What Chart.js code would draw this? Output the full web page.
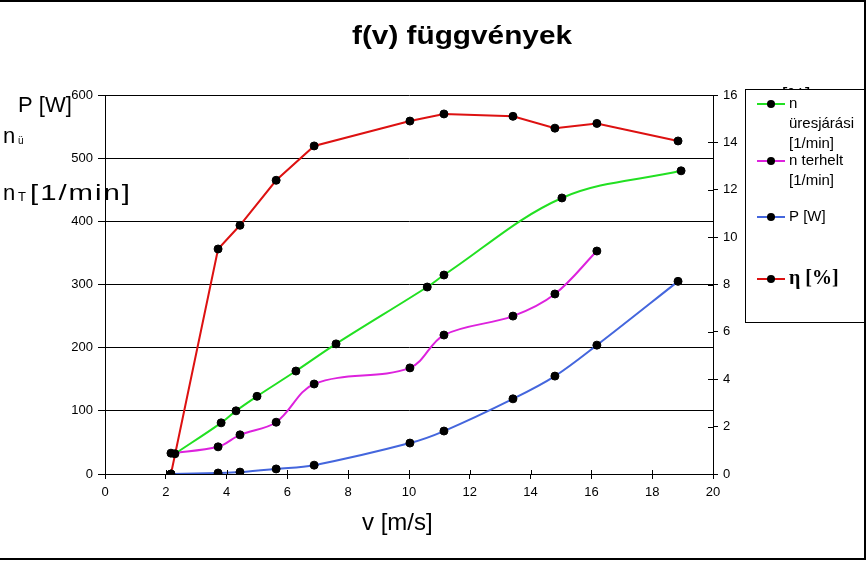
<!DOCTYPE html>
<html>
<head>
<meta charset="utf-8">
<title>f(v) függvények</title>
<script src="https://cdn.jsdelivr.net/npm/chart.js@4.4.0/dist/chart.umd.min.js"></script>
<style>
    html, body { margin: 0; padding: 0; background: #fff; }
    #wrap { width: 868px; height: 561px; }
</style>
</head>
<body>
<div id="wrap"><canvas id="chart" width="868" height="561"></canvas></div>
<script>
// mért sebességek (P és η), valamint a terhelt fordulatszám
const vMeres = [2.17, 3.72, 4.44, 5.63, 6.88, 10.03, 11.15, 13.42, 14.8, 16.18, 18.85];
const pW = [0, 1.6, 3, 8, 14, 49, 68, 119, 155, 204, 305];
const eta = [0, 9.5, 10.5, 12.4, 13.85, 14.9, 15.2, 15.1, 14.6, 14.8, 14.06];
const nTerhelt = [33, 43, 62, 82, 142.5, 168, 220, 250, 285, 353];

// üresjárási mérés
const vUres = [2.3, 3.82, 4.31, 5.0, 6.28, 7.6, 10.6, 11.15, 15.03, 18.95];
const nUres = [32, 81, 100, 123, 163, 206, 296, 315, 437, 480];

const xTicks = { min: 0, max: 20, step: 2 };
const yTicks = { min: 0, max: 600, step: 100 };
const yRTicks = { min: 0, max: 16, step: 2 };

const FONT = 'Arial, "Liberation Sans", sans-serif';

function pontok(xs, ys) {
    return ys.map((y, i) => ({ x: xs[i], y: y }));
}

// szöveg kirajzolása (opcionálisan adott szélességre nyújtva / betűközzel)
function felirat(ctx, text, x, y, font, width, spacing) {
    ctx.save();
    ctx.font = font;
    if (spacing) ctx.letterSpacing = spacing + 'px';
    const w = ctx.measureText(text).width;
    const sx = width ? width / w : 1;
    ctx.translate(x, y);
    ctx.scale(sx, 1);
    ctx.textAlign = 'left';
    ctx.textBaseline = 'alphabetic';
    ctx.fillText(text, 0, 0);
    ctx.restore();
}

const rajzPlugin = {
    id: 'rajz',
    afterDraw(chart) {
        const ctx = chart.ctx;
        const sx = chart.scales.x;
        const sr = chart.scales.yR;
        ctx.save();
        ctx.fillStyle = '#000';
        ctx.strokeStyle = '#000';
        ctx.lineWidth = 1;

        // befelé mutató osztások
        ctx.beginPath();
        sx.ticks.forEach(t => {
            const px = Math.round(sx.getPixelForValue(t.value)) + 0.5;
            ctx.moveTo(px, sx.top - 4);
            ctx.lineTo(px, sx.top);
        });
        sr.ticks.forEach(t => {
            const py = Math.round(sr.getPixelForValue(t.value)) + 0.5;
            ctx.moveTo(sr.left - 5, py);
            ctx.lineTo(sr.left, py);
        });
        ctx.stroke();

        // cím
        felirat(ctx, 'f(v) függvények', 352, 44, 'bold 25px ' + FONT, 220);

        // bal tengely felirata
        felirat(ctx, 'P [W]', 18, 112, '22px ' + FONT);
        felirat(ctx, 'n', 3, 143, '22px ' + FONT);
        felirat(ctx, 'ü', 18, 144, '10px ' + FONT);
        felirat(ctx, 'n', 3, 200, '22px ' + FONT);
        felirat(ctx, 'T', 18, 201, '13px ' + FONT);
        felirat(ctx, '[1/min]', 30, 200, '22px ' + FONT, 102, 1.5);

        // x tengely felirata
        felirat(ctx, 'v [m/s]', 362, 530, '24px ' + FONT);

        // jobb tengely felirata (a jelmagyarázat részben eltakarja)
        felirat(ctx, 'η [%]', 765, 102, '20px ' + FONT);

        // jelmagyarázat
        ctx.fillStyle = '#fff';
        ctx.fillRect(745, 89, 121, 233);
        ctx.lineWidth = 1;
        ctx.strokeRect(745.5, 89.5, 120, 233);
        const sorY = [104, 161, 217, 279];
        chart.data.datasets.forEach((ds, i) => {
            const y = sorY[i];
            ctx.strokeStyle = ds.borderColor;
            ctx.lineWidth = 2;
            ctx.beginPath();
            ctx.moveTo(757, y);
            ctx.lineTo(785, y);
            ctx.stroke();
            ctx.fillStyle = '#000';
            ctx.beginPath();
            ctx.arc(771, y, 4, 0, Math.PI * 2);
            ctx.fill();
            const font = ds.legendFont || ('15px ' + FONT);
            ds.label.split('\n').forEach((sor, j) => {
                ctx.font = font;
                ctx.textBaseline = 'middle';
                ctx.textAlign = 'left';
                ctx.fillText(sor, 789, y + j * 20);
            });
        });

        // külső keret
        ctx.strokeStyle = '#000';
        ctx.lineWidth = 2;
        ctx.beginPath();
        ctx.moveTo(0, 1);
        ctx.lineTo(865, 1);
        ctx.lineTo(865, 559);
        ctx.lineTo(0, 559);
        ctx.stroke();
        ctx.restore();
    }
};

const tickFont = { family: FONT, size: 13 };

const pontStilus = { pointRadius: 4, pointBackgroundColor: '#000', pointBorderColor: '#000', pointBorderWidth: 1 };

new Chart(document.getElementById('chart'), {
    type: 'line',
    data: {
        datasets: [
            {
                label: 'n\nüresjárási\n[1/min]',
                data: pontok(vUres, nUres),
                borderColor: '#22e022',
                yAxisID: 'y',
                tension: 0.35,
                ...pontStilus
            },
            {
                label: 'n terhelt\n[1/min]',
                data: pontok(vMeres, nTerhelt),
                borderColor: '#dd22dd',
                yAxisID: 'y',
                tension: 0.35,
                ...pontStilus
            },
            {
                label: 'P [W]',
                data: pontok(vMeres, pW),
                borderColor: '#4466dd',
                yAxisID: 'y',
                tension: 0.35,
                ...pontStilus
            },
            {
                label: 'η [%]',
                data: pontok(vMeres, eta),
                borderColor: '#dd1111',
                yAxisID: 'yR',
                tension: 0,
                legendFont: 'bold 20px "Liberation Serif", "Times New Roman", serif',
                ...pontStilus
            }
        ]
    },
    options: {
        responsive: false,
        animation: false,
        events: [],
        layout: { padding: { top: 95, left: 0, right: 0, bottom: 0 } },
        elements: {
            line: { borderWidth: 2, fill: false }
        },
        plugins: {
            legend: { display: false },
            title: { display: false },
            tooltip: { enabled: false }
        },
        scales: {
            x: {
                type: 'linear',
                position: 'bottom',
                min: xTicks.min,
                max: xTicks.max,
                ticks: { stepSize: xTicks.step, color: '#000', font: tickFont, padding: 6, maxRotation: 0 },
                grid: { drawOnChartArea: false, color: '#000', tickLength: 5 },
                border: { color: '#000' },
                afterFit(s) { s.height = 87; }
            },
            y: {
                position: 'left',
                min: yTicks.min,
                max: yTicks.max,
                ticks: { stepSize: yTicks.step, color: '#000', font: tickFont, padding: 5 },
                grid: { color: '#000', tickLength: 7 },
                border: { color: '#000' },
                afterFit(s) { s.width = 105; }
            },
            yR: {
                position: 'right',
                min: yRTicks.min,
                max: yRTicks.max,
                ticks: { stepSize: yRTicks.step, color: '#000', font: tickFont, padding: 5 },
                grid: { drawOnChartArea: false, color: '#000', tickLength: 5 },
                border: { color: '#000' },
                afterFit(s) { s.width = 155; }
            }
        }
    },
    plugins: [rajzPlugin]
});
</script>
</body>
</html>
